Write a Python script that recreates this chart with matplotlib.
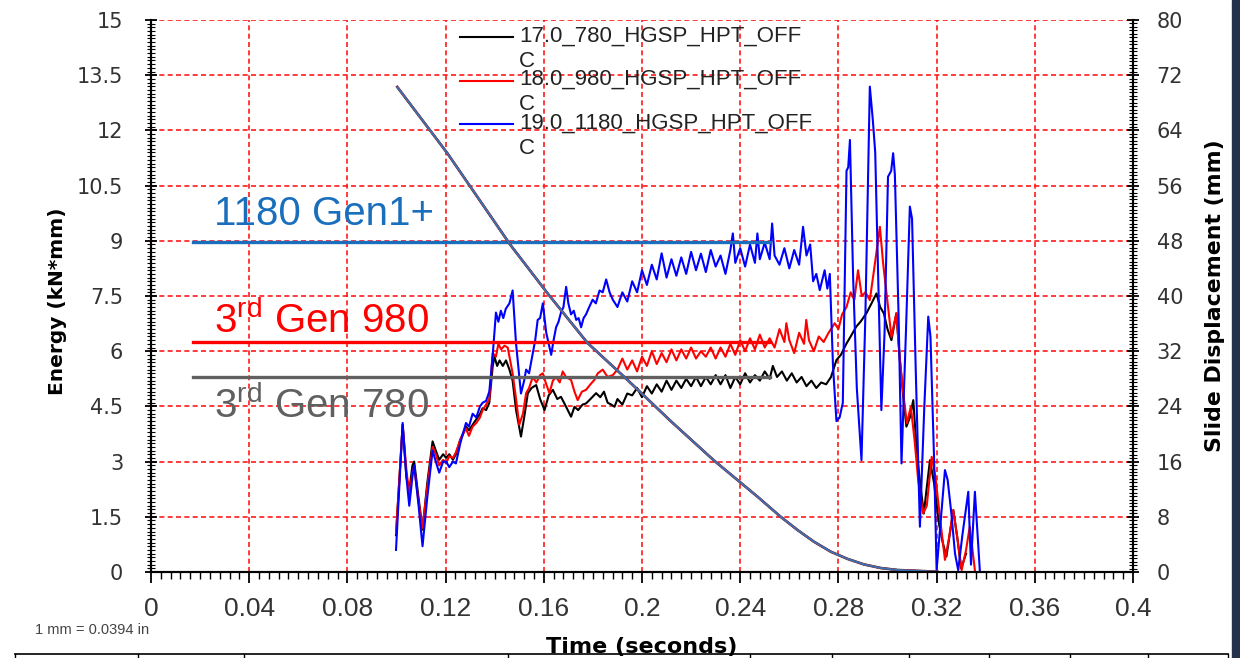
import numpy as np
import matplotlib
matplotlib.use('Agg')
import matplotlib.pyplot as plt
from matplotlib.ticker import MultipleLocator
from matplotlib.lines import Line2D
from matplotlib.patches import Rectangle

plt.rcParams['font.family'] = ['DejaVu Sans']
plt.rcParams['mathtext.fontset'] = 'custom'
plt.rcParams['mathtext.rm'] = 'Liberation Sans'

#%% data
series_labels = ['17.0_780_HGSP_HPT_OFF\nC', '18.0_980_HGSP_HPT_OFF\nC', '19.0_1180_HGSP_HPT_OFF\nC']

t_780 = [0.0998, 0.1025, 0.1040, 0.1052, 0.1065, 0.1072, 0.1090, 0.1106, 0.1125, 0.1147, 0.1160, 0.1174,
         0.1190, 0.1202, 0.1215, 0.1230, 0.1242, 0.1260, 0.1283, 0.1295, 0.1310, 0.1325, 0.1340, 0.1351,
         0.1365, 0.1378, 0.1392, 0.1399, 0.1410, 0.1420, 0.1433, 0.1446, 0.1460, 0.1473, 0.1487, 0.1507,
         0.1520, 0.1535, 0.1550, 0.1569, 0.1585, 0.1603, 0.1620, 0.1637, 0.1655, 0.1670, 0.1690, 0.1711,
         0.1725, 0.1740, 0.1758, 0.1772, 0.1790, 0.1813, 0.1830, 0.1845, 0.1860, 0.1875, 0.1888,
         0.190, 0.192, 0.194, 0.196, 0.198, 0.200, 0.202, 0.204, 0.206, 0.208, 0.210, 0.212, 0.214, 0.216,
         0.218, 0.220, 0.222, 0.224, 0.226, 0.228, 0.230, 0.232, 0.234, 0.236, 0.238, 0.240, 0.242, 0.244,
         0.246, 0.248, 0.250, 0.252, 0.2533, 0.255, 0.257, 0.259, 0.261, 0.263, 0.265, 0.267, 0.269, 0.271,
         0.273, 0.275, 0.277, 0.2792, 0.2810, 0.2833, 0.2850, 0.2873, 0.2890, 0.2914, 0.2935, 0.2955,
         0.2970, 0.2985, 0.3000, 0.3016, 0.3036, 0.3050, 0.3065, 0.3077, 0.3091, 0.3105, 0.3120, 0.3135,
         0.3148, 0.3160, 0.3173, 0.3190, 0.3210, 0.3225, 0.3240, 0.3255, 0.3268, 0.3285, 0.3300, 0.3320]
e_780 = [1.0, 4.0, 2.6, 2.2, 2.9, 3.0, 2.0, 1.15, 2.4, 3.55, 3.3, 3.05,
         3.2, 3.1, 3.2, 3.05, 3.2, 3.6, 3.95, 3.85, 4.0, 4.15, 4.3, 4.45,
         4.4, 4.6, 5.6, 5.85, 5.6, 5.75, 5.6, 5.75, 5.5, 5.2, 4.4, 3.68,
         4.2, 4.86, 5.0, 5.08, 4.7, 4.4, 4.8, 4.95, 4.7, 4.76, 4.5, 4.22,
         4.49, 4.4, 4.55, 4.58, 4.7, 4.86, 4.75, 4.9, 4.6, 4.55, 4.49,
         4.7, 4.55, 4.85, 4.8, 5.0, 4.75, 5.05, 4.85, 5.1, 4.9, 5.2, 4.95, 5.2, 5.0,
         5.25, 5.05, 5.3, 5.05, 5.3, 5.1, 5.35, 5.1, 5.35, 5.0, 5.3, 5.1, 5.4, 5.15,
         5.35, 5.2, 5.45, 5.25, 5.6, 5.3, 5.45, 5.2, 5.4, 5.15, 5.3, 5.05, 5.2, 5.0,
         5.15, 5.1, 5.3, 5.76, 5.9, 6.21, 6.4, 6.67, 6.8, 7.03, 7.3, 7.57,
         7.2, 7.03, 6.6, 6.3, 7.03, 5.8, 4.7, 3.95, 4.2, 4.67, 3.2, 2.3,
         1.59, 2.3, 3.04, 2.4, 1.3, 0.8, 0.42, 1.1, 1.68, 0.9, 0.1, 0.5]

t_980 = [0.0998, 0.1025, 0.1040, 0.1052, 0.1065, 0.1072, 0.1090, 0.1106, 0.1125, 0.1147, 0.1160, 0.1174,
         0.1190, 0.1202, 0.1215, 0.1230, 0.1242, 0.1260, 0.1283, 0.1295, 0.1310, 0.1325, 0.1340, 0.1351,
         0.1365, 0.1378, 0.1392, 0.1405, 0.1415, 0.1426, 0.1440, 0.1453, 0.1473, 0.1487, 0.1500, 0.1515,
         0.1528, 0.1540, 0.1555, 0.1570, 0.1585, 0.1596, 0.1610, 0.1623, 0.1637, 0.1650, 0.1665, 0.1677,
         0.1690, 0.1711, 0.1725, 0.1738, 0.1755, 0.1772, 0.1790, 0.1806, 0.1820, 0.1840, 0.1860, 0.1881,
         0.190, 0.192, 0.194, 0.196, 0.198, 0.200, 0.202, 0.204, 0.206, 0.208, 0.210, 0.212, 0.214, 0.216,
         0.218, 0.220, 0.222, 0.224, 0.226, 0.228, 0.230, 0.232, 0.234, 0.236, 0.238, 0.240, 0.242, 0.244,
         0.246, 0.248, 0.250, 0.252, 0.254, 0.256, 0.258, 0.2588, 0.260, 0.262, 0.264, 0.266, 0.2669,
         0.268, 0.270, 0.272, 0.274, 0.276, 0.2785, 0.2800, 0.2815, 0.2833, 0.2850, 0.2865, 0.2880,
         0.2895, 0.2910, 0.2928, 0.2945, 0.2969, 0.2982, 0.2996, 0.3016, 0.3036, 0.3050, 0.3065, 0.3079,
         0.3095, 0.3110, 0.3125, 0.3145, 0.3160, 0.3180, 0.3195, 0.3215, 0.3234, 0.3250, 0.3268, 0.3285,
         0.3302, 0.3320, 0.3335, 0.3356]
e_980 = [1.05, 4.0, 2.8, 2.1, 2.7, 2.85, 1.9, 1.2, 2.3, 3.4, 3.2, 2.9,
         3.05, 2.95, 3.15, 3.1, 3.25, 3.6, 3.9, 3.7, 3.95, 4.05, 4.2, 4.4,
         4.55, 4.7, 5.95, 5.85, 6.2, 6.05, 6.15, 6.1, 5.4, 4.7, 4.0, 4.3,
         4.86, 5.0, 5.3, 5.15, 5.35, 5.4, 5.1, 4.86, 5.2, 5.3, 5.15, 5.45,
         5.3, 5.22, 4.9, 4.67, 4.9, 4.95, 5.1, 5.22, 5.4, 5.5, 5.3, 5.35,
         5.5, 5.8, 5.5, 5.75, 5.45, 5.85, 5.6, 6.0, 5.65, 5.95, 5.7, 6.05, 5.75, 6.05,
         5.8, 6.1, 5.8, 6.0, 5.85, 6.1, 5.8, 6.1, 5.85, 6.2, 5.9, 6.3, 6.0, 6.35,
         6.05, 6.45, 6.1, 6.35, 6.1, 6.6, 6.25, 6.76, 6.3, 5.95, 6.5, 6.2, 6.85,
         6.3, 6.0, 6.4, 6.25, 6.5, 6.76, 6.6, 7.0, 7.2, 7.6, 7.4, 8.2,
         7.5, 7.6, 7.39, 8.2, 9.38, 8.4, 7.57, 6.39, 7.03, 5.8, 4.8, 4.04,
         4.49, 3.6, 2.5, 1.59, 1.8, 3.13, 2.6, 1.4, 0.33, 0.9, 1.68, 0.9,
         0.05, 0.6, 1.23, 0.05]

t_1180 = [0.0998, 0.1025, 0.1040, 0.1052, 0.1065, 0.1072, 0.1090, 0.1106, 0.1125, 0.1147, 0.1160, 0.1174,
          0.1190, 0.1202, 0.1215, 0.1230, 0.1242, 0.1260, 0.1283, 0.1295, 0.1310, 0.1325, 0.1340, 0.1351,
          0.1365, 0.1378, 0.1392, 0.1405, 0.1415, 0.1425, 0.1435, 0.1445, 0.1460, 0.1473, 0.1487, 0.1507,
          0.1520, 0.1528, 0.1540, 0.1555, 0.1565, 0.1575, 0.1585, 0.1596, 0.1603, 0.1610, 0.1620, 0.1630,
          0.1640, 0.1650, 0.1660, 0.1670, 0.1680, 0.1691, 0.1700, 0.1711, 0.1722, 0.1732, 0.1742, 0.1752,
          0.1762, 0.1772, 0.1785, 0.1799, 0.1812, 0.1827, 0.1840, 0.1854, 0.1868, 0.1881,
          0.190, 0.192, 0.194, 0.196, 0.198, 0.200, 0.202, 0.204, 0.206, 0.208, 0.210, 0.212, 0.214, 0.216,
          0.218, 0.220, 0.222, 0.224, 0.226, 0.228, 0.230, 0.232, 0.234, 0.236, 0.237, 0.238, 0.240, 0.242,
          0.244, 0.246, 0.247, 0.248, 0.250, 0.252, 0.253, 0.254, 0.256, 0.258, 0.260, 0.262, 0.264, 0.2656,
          0.267, 0.2685, 0.2697, 0.271, 0.2724, 0.2744, 0.2755, 0.2765, 0.2778, 0.2792, 0.2805, 0.2818,
          0.2833, 0.2840, 0.2847, 0.2860, 0.2875, 0.2894, 0.2910, 0.2928, 0.2940, 0.2950, 0.2962, 0.2975,
          0.2988, 0.3002, 0.3015, 0.3023, 0.3030, 0.3045, 0.3057, 0.3075, 0.3091, 0.3100, 0.3115, 0.3132,
          0.3150, 0.3166, 0.3175, 0.3190, 0.3200, 0.3218, 0.3234, 0.3245, 0.3260, 0.3275, 0.3288, 0.3305,
          0.3329, 0.3340, 0.3356, 0.3376]
e_1180 = [0.6, 4.05, 2.6, 1.8, 2.6, 2.9, 1.8, 0.7, 2.0, 3.3, 3.0, 2.7,
          3.0, 3.0, 2.85, 3.0, 2.95, 3.5, 4.05, 3.95, 4.3, 4.2, 4.5, 4.6,
          4.65, 4.9, 5.9, 7.05, 6.8, 7.1, 6.9, 7.15, 7.3, 7.65, 6.2, 4.85,
          5.2, 5.5, 5.4, 5.95, 6.3, 6.85, 6.9, 7.3, 6.9, 6.5, 6.2, 5.9,
          6.3, 6.65, 6.8, 7.05, 7.2, 7.75, 7.3, 7.0, 7.1, 6.85, 6.9, 6.65,
          6.9, 7.0, 7.2, 7.4, 7.3, 7.65, 7.6, 7.95, 7.6, 7.4,
          7.2, 7.6, 7.35, 7.9, 7.6, 8.2, 7.8, 8.35, 7.95, 8.66, 8.0, 8.5, 8.05, 8.55,
          8.1, 8.7, 8.2, 8.65, 8.15, 8.75, 8.3, 8.6, 8.1, 8.75, 9.2, 8.4, 8.8, 8.3,
          8.9, 8.4, 9.2, 8.5, 8.95, 8.5, 9.47, 8.6, 8.35, 8.8, 8.25, 8.75, 8.35, 9.38,
          8.6, 8.9, 7.9, 8.1, 7.66, 8.2, 7.7, 8.1, 5.6, 4.1, 4.2, 4.6,
          10.9, 11.0, 11.74, 8.0, 5.0, 3.04, 7.0, 13.19, 12.3, 11.4, 8.0, 4.4,
          6.5, 10.74, 10.9, 11.38, 10.8, 7.0, 2.95, 6.5, 9.93, 9.6, 5.5, 1.23,
          4.5, 6.94, 6.4, 3.0, 0.05, 1.5, 2.77, 2.5, 1.6, 0.5, 0.05, 1.0,
          2.18, 0.2, 2.18, 0.05]

# slide displacement (mm), same for the three runs
disp_t = [0.1003, 0.1207, 0.1464, 0.1615, 0.1778, 0.1945, 0.2116, 0.2292, 0.2471, 0.2565, 0.2633,
          0.2700, 0.2769, 0.2837, 0.2904, 0.2972, 0.3041, 0.3108, 0.3203]
disp_mm = [70.3, 60.7, 47.4, 40.4, 33.2, 27.7, 21.9, 16.2, 10.9, 8.0, 6.1,
           4.4, 2.94, 1.9, 1.1, 0.58, 0.29, 0.19, 0.04]

# reference levels
ref_names = ['1180 Gen1+', r'3$^{\mathrm{rd}}$ Gen 980', r'3$^{\mathrm{rd}}$ Gen 780']
ref_levels = [8.97, 6.25, 5.3]
ref_text_y = [9.43, 6.49, 4.18]
ref_colors = ['#1a6fbd', '#ff0000', '#606060']
ref_t0, ref_t1 = 0.017, 0.252

x_ticks = [0, 0.04, 0.08, 0.12, 0.16, 0.2, 0.24, 0.28, 0.32, 0.36, 0.4]
x_labels = ['0', '0.04', '0.08', '0.12', '0.16', '0.2', '0.24', '0.28', '0.32', '0.36', '0.4']
e_ticks = [0, 1.5, 3, 4.5, 6, 7.5, 9, 10.5, 12, 13.5, 15]
e_labels = ['0', '1.5', '3', '4.5', '6', '7.5', '9', '10.5', '12', '13.5', '15']
d_ticks = [0, 8, 16, 24, 32, 40, 48, 56, 64, 72, 80]

#%% plot
fig = plt.figure(figsize=(12.4, 6.58), dpi=100)
ax = fig.add_axes([151 / 1240, 1 - 572 / 658, 982 / 1240, 552 / 658])
ax2 = ax.twinx()

ax.plot(t_780, e_780, color='black', lw=1.5, label=series_labels[0])
ax.plot(t_980, e_980, color='red', lw=1.5, label=series_labels[1])
ax.plot(t_1180, e_1180, color='blue', lw=1.5, label=series_labels[2])

for name, lev, ty, c in zip(ref_names, ref_levels, ref_text_y, ref_colors):
    ax.plot([ref_t0, ref_t1], [lev, lev], color=c, lw=2.4, zorder=4)
    ax.text(0.0255, ty, name, color=c, fontsize=29, family='Liberation Sans', zorder=5)

ax2.plot(disp_t, disp_mm, color='#333333', lw=1.9)
ax2.plot(disp_t, disp_mm, color='red', lw=1.5)
ax2.plot(disp_t, disp_mm, color='#3573b5', lw=1.4)

ax.set_xlim(0, 0.4)
ax.set_ylim(0, 15)
ax2.set_ylim(0, 80)

ax.set_xticks(x_ticks)
ax.set_xticklabels(x_labels, family='Liberation Sans', fontsize=19, color='#333333')
ax.set_yticks(e_ticks)
ax.set_yticklabels(e_labels, fontsize=15, color='#333333')
ax2.set_yticks(d_ticks)
ax2.set_yticklabels([str(d) for d in d_ticks], fontsize=15, color='#333333')
ax.xaxis.set_minor_locator(MultipleLocator(0.004))
ax.yaxis.set_minor_locator(MultipleLocator(0.1))
ax2.yaxis.set_minor_locator(MultipleLocator(0.5))

ax.tick_params(axis='x', which='major', direction='out', length=8, width=1.3, pad=10)
ax.tick_params(axis='x', which='minor', direction='out', length=5, width=1)
ax.tick_params(axis='y', which='major', direction='inout', length=8, width=1.3, pad=16)
ax.tick_params(axis='y', which='minor', direction='inout', length=6, width=0.8)
ax2.tick_params(axis='y', which='major', direction='inout', length=8, width=1.3, pad=13)
ax2.tick_params(axis='y', which='minor', direction='inout', length=6, width=0.8)

ax.grid(True, which='major', color='#ff1a1a', linestyle=(0, (3, 2)), linewidth=1.2)
for a in (ax, ax2):
    a.spines['top'].set_visible(False)
    for s in ('left', 'right', 'bottom'):
        a.spines[s].set_linewidth(1.5)

ax.set_ylabel('Energy (kN*mm)', fontsize=14.5, fontweight='bold')
ax.yaxis.set_label_coords(-0.086, 0.49)
ax2.set_ylabel('Slide Displacement (mm)', fontsize=15.8, fontweight='bold')
ax2.yaxis.set_label_coords(1.073, 0.50)
ax.set_xlabel('Time (seconds)', fontsize=16, fontweight='bold', va='top')
ax.xaxis.set_label_coords(0.5, -0.118)

leg = ax.legend(loc='upper left', bbox_to_anchor=(0.315, 0.990), frameon=False,
                prop={'family': 'Liberation Sans', 'size': 16}, handlelength=2.35,
                handletextpad=0.3, labelspacing=-0.11, borderpad=0, borderaxespad=0)
for txt in leg.get_texts():
    txt.set_linespacing(1.25)
    txt.set_color('#222222')
# put each legend line next to the first text line, as in the source chart
for ln in leg.get_lines():
    ln.set_ydata(np.asarray(ln.get_ydata(), dtype=float) + 8.3)

fig.text(35 / 1240, 1 - 630 / 658, '1 mm = 0.0394 in', fontsize=10.5, family='Liberation Sans',
         color='#444444', va='center')

# table border below the chart
fig.add_artist(Line2D([15 / 1240, 1228 / 1240], [1 - 654 / 658] * 2, color='black', lw=1.2))
for xp in [15, 138, 244, 508, 750, 832, 909, 989, 1070, 1148, 1228]:
    fig.add_artist(Line2D([xp / 1240] * 2, [0, 1 - 654 / 658], color='black', lw=1.0))
fig.add_artist(Rectangle((1232 / 1240, 0), 8 / 1240, 1, transform=fig.transFigure, color='#23324a'))

fig.savefig('out.png', dpi=100)
